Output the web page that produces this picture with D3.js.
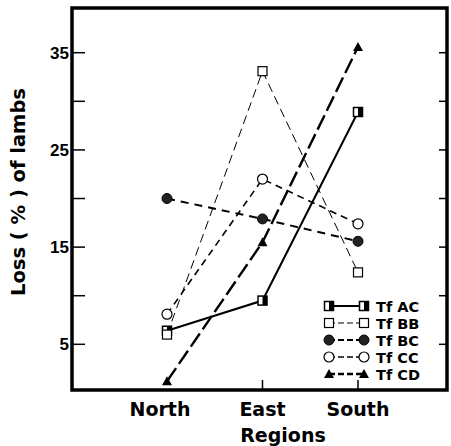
<!DOCTYPE html>
<html>
<head>
<meta charset="utf-8">
<script src="https://cdn.jsdelivr.net/npm/d3@7"></script>
<style>
body { margin: 0; background: #fff; }
</style>
</head>
<body>
<div id="chart"></div>
<script>
var w = 451;
var h = 446;

var regions = ["North", "East", "South"];
var seriesNames = ["Tf AC", "Tf BB", "Tf BC", "Tf CC", "Tf CD"];
var lossAC = [6.4, 9.5, 28.9];
var lossBB = [6.0, 33.1, 12.4];
var lossBC = [20.0, 17.9, 15.6];
var lossCC = [8.1, 22.0, 17.4];
var lossCD = [1.2, 15.5, 35.6];
var yTicks = [5, 10, 15, 20, 25, 30, 35];
var yLabels = [5, 15, 25, 35];

var series = [
    { name: seriesNames[0], values: lossAC, marker: "halfsquare", dash: null, width: 2 },
    { name: seriesNames[1], values: lossBB, marker: "square", dash: "9,5", width: 1 },
    { name: seriesNames[2], values: lossBC, marker: "dot", dash: "8,6", width: 2 },
    { name: seriesNames[3], values: lossCC, marker: "circle", dash: "7,5", width: 1.6 },
    { name: seriesNames[4], values: lossCD, marker: "triangle", dash: "16,5", width: 2.4 }
];

var plotL = 72, plotR = 447, plotT = 8, plotB = 390;

var x = d3.scalePoint()
    .domain(regions)
    .range([167, 358]);

var y = d3.scaleLinear()
    .domain([0.3, 39.6])
    .range([plotB, plotT]);

var svg = d3.select("#chart")
    .append("svg")
    .attr("width", w)
    .attr("height", h);

// frame
svg.append("rect")
    .attr("x", plotL)
    .attr("y", plotT)
    .attr("width", plotR - plotL)
    .attr("height", plotB - plotT)
    .style("fill", "none")
    .style("stroke", "#000")
    .style("stroke-width", 3.5);

// y ticks (inside, left and right)
svg.selectAll(".ytick")
    .data(yTicks)
    .enter()
    .append("line")
    .attr("x1", plotL)
    .attr("x2", plotL + 13)
    .attr("y1", function(d) { return y(d); })
    .attr("y2", function(d) { return y(d); })
    .style("stroke", "#000")
    .style("stroke-width", 1.5);

svg.selectAll(".ytickr")
    .data(yTicks)
    .enter()
    .append("line")
    .attr("x1", plotR - 8)
    .attr("x2", plotR)
    .attr("y1", function(d) { return y(d); })
    .attr("y2", function(d) { return y(d); })
    .style("stroke", "#000")
    .style("stroke-width", 1.5);

svg.selectAll(".ylab")
    .data(yLabels)
    .enter()
    .append("text")
    .attr("x", plotL - 3)
    .attr("y", function(d) { return y(d) + 6; })
    .attr("text-anchor", "end")
    .style("font-family", "'Liberation Sans Narrow', 'Liberation Sans', Arial, sans-serif")
    .style("font-size", "17px")
    .style("font-weight", "bold")
    .text(function(d) { return d; });

// x ticks
svg.selectAll(".xtick")
    .data(regions.slice(1))
    .enter()
    .append("line")
    .attr("x1", function(d) { return x(d); })
    .attr("x2", function(d) { return x(d); })
    .attr("y1", plotB)
    .attr("y2", plotB - 10)
    .style("stroke", "#000")
    .style("stroke-width", 1.5);

svg.selectAll(".xlab")
    .data(regions)
    .enter()
    .append("text")
    .attr("x", function(d) { return x(d) - (d == "North" ? 7 : 0); })
    .attr("y", 416)
    .attr("text-anchor", "middle")
    .style("font-family", "'DejaVu Sans', sans-serif")
    .style("font-size", "19px")
    .style("font-weight", "bold")
    .text(function(d) { return d; });

svg.append("text")
    .attr("x", 283)
    .attr("y", 442)
    .attr("text-anchor", "middle")
    .style("font-family", "'DejaVu Sans', sans-serif")
    .style("font-size", "19px")
    .style("font-weight", "bold")
    .text("Regions");

svg.append("text")
    .attr("transform", "translate(25,192) rotate(-90)")
    .attr("text-anchor", "middle")
    .style("font-family", "'DejaVu Sans', sans-serif")
    .style("font-size", "19.5px")
    .style("font-weight", "bold")
    .text("Loss ( % ) of lambs");

var line = d3.line()
    .x(function(d, i) { return x(regions[i]); })
    .y(function(d) { return y(d); });

function drawMarker(g, type, cx, cy) {
    if (type == "halfsquare") {
        g.append("rect").attr("x", cx - 4.5).attr("y", cy - 4.5).attr("width", 9).attr("height", 9)
            .style("fill", "#fff").style("stroke", "#000").style("stroke-width", 1.5);
        g.append("rect").attr("x", cx).attr("y", cy - 4.5).attr("width", 4.5).attr("height", 9)
            .style("fill", "#000");
    } else if (type == "square") {
        g.append("rect").attr("x", cx - 4.5).attr("y", cy - 4.5).attr("width", 9).attr("height", 9)
            .style("fill", "#fff").style("stroke", "#000").style("stroke-width", 1.2);
    } else if (type == "dot") {
        g.append("circle").attr("cx", cx).attr("cy", cy).attr("r", 5)
            .style("fill", "#222").style("stroke", "#000").style("stroke-width", 1);
    } else if (type == "circle") {
        g.append("circle").attr("cx", cx).attr("cy", cy).attr("r", 5)
            .style("fill", "#fff").style("stroke", "#000").style("stroke-width", 1.2);
    } else if (type == "triangle") {
        g.append("path").attr("d", "M" + cx + "," + (cy - 5) + "L" + (cx + 5) + "," + (cy + 4) + "L" + (cx - 5) + "," + (cy + 4) + "Z")
            .style("fill", "#000");
    }
}

series.forEach(function(s) {
    svg.append("path")
        .datum(s.values)
        .attr("d", line)
        .style("fill", "none")
        .style("stroke", "#000")
        .style("stroke-width", s.width)
        .style("stroke-dasharray", s.dash);
});

series.forEach(function(s) {
    var g = svg.append("g");
    s.values.forEach(function(v, i) {
        drawMarker(g, s.marker, x(regions[i]), y(v));
    });
});

// legend
var legend = svg.append("g");
series.forEach(function(s, i) {
    var ly = 306 + i * 17;
    legend.append("line")
        .attr("x1", 329).attr("x2", 364)
        .attr("y1", ly).attr("y2", ly)
        .style("stroke", "#000")
        .style("stroke-width", s.width)
        .style("stroke-dasharray", s.dash ? "6,3" : null);
    drawMarker(legend, s.marker, 329, ly);
    drawMarker(legend, s.marker, 364, ly);
    legend.append("text")
        .attr("x", 376)
        .attr("y", ly + 5.5)
        .style("font-family", "'DejaVu Sans', sans-serif")
        .style("font-size", "14.5px")
        .style("font-weight", "bold")
        .text(s.name);
});
</script>
</body>
</html>
